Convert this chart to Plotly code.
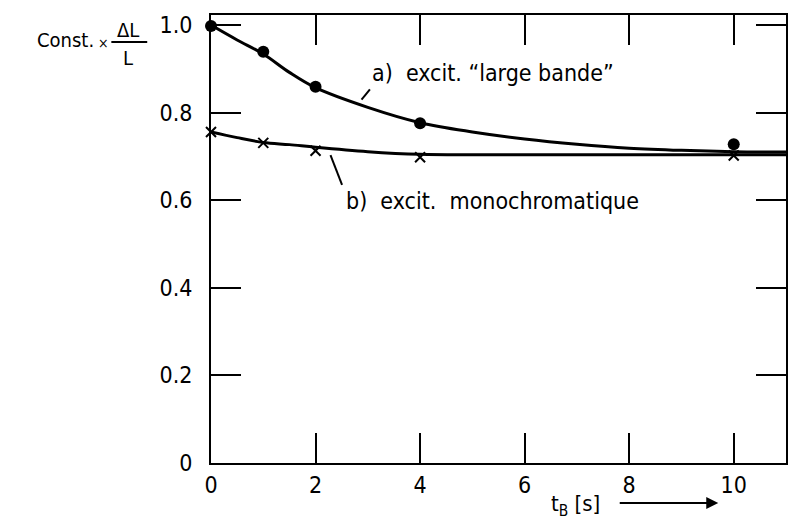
import plotly.graph_objects as go

# ---- data ----
pts_x = [0, 1, 2, 4, 10]
dots_a = [0.998, 0.939, 0.859, 0.776, 0.728]      # a) excit. "large bande"
cross_b = [0.756, 0.731, 0.713, 0.698, 0.702]     # b) excit. monochromatique

curve_x = [0, 0.5, 1, 1.5, 2, 3, 4, 5, 6, 7, 8, 9, 10, 11]
curve_a = [1.0, 0.966, 0.934, 0.892, 0.857, 0.812, 0.777, 0.756, 0.740, 0.728, 0.719, 0.714, 0.711, 0.710]
curve_b = [0.756, 0.743, 0.732, 0.727, 0.721, 0.711, 0.705, 0.704, 0.704, 0.704, 0.704, 0.704, 0.704, 0.704]

x_ticks = [0, 2, 4, 6, 8, 10]
y_ticks = [0, 0.2, 0.4, 0.6, 0.8, 1.0]
y_ticktext = ["0", "0.2", "0.4", "0.6", "0.8", "1.0"]

FONT = "Liberation Sans Narrow, DejaVu Sans Condensed, Arial Narrow, sans-serif"

W, H = 789, 524
L, R, T, B = 211, 1, 15, 61
PW, PH = W - L - R, H - T - B


def px(x):
    return (x - L) / PW


def py(y):
    return (H - B - y) / PH


fig = go.Figure()
fig.add_trace(go.Scatter(x=curve_x, y=curve_a, mode="lines", line=dict(color="black", width=3, shape="spline"),
                         showlegend=False, hoverinfo="skip"))
fig.add_trace(go.Scatter(x=curve_x, y=curve_b, mode="lines", line=dict(color="black", width=3, shape="spline"),
                         showlegend=False, hoverinfo="skip"))
fig.add_trace(go.Scatter(x=pts_x, y=dots_a, mode="markers", cliponaxis=False,
                         marker=dict(symbol="circle", size=12, color="black"), showlegend=False))
fig.add_trace(go.Scatter(x=pts_x, y=cross_b, mode="markers", cliponaxis=False,
                         marker=dict(symbol="x-thin", size=10, color="black", line=dict(color="black", width=2)),
                         showlegend=False))

axis_common = dict(showline=True, linewidth=2, linecolor="black", mirror="ticks", ticks="inside",
                   ticklen=30, tickwidth=2, tickcolor="black", showgrid=False, zeroline=False,
                   tickfont=dict(family=FONT, size=23, color="black"))

fig.update_xaxes(range=[0, 11], tickvals=x_ticks, ticktext=[str(v) for v in x_ticks], **axis_common)
fig.update_yaxes(range=[0, 1.023], tickvals=y_ticks, ticktext=y_ticktext, ticklabelstandoff=12, **axis_common)

ann = []
ann.append(dict(x=3.05, y=0.89, xref="x", yref="y", text="a)  excit. \u201clarge bande\u201d", showarrow=False,
                xanchor="left", yanchor="middle", font=dict(family=FONT, size=23, color="black")))
ann.append(dict(x=2.54, y=0.599, xref="x", yref="y", text="b)  excit.  monochromatique", showarrow=False,
                xanchor="left", yanchor="middle", font=dict(family=FONT, size=23, color="black")))
# y-axis title
ann.append(dict(x=px(34), y=py(40), xref="paper", yref="paper", text="Const.", showarrow=False,
                xanchor="left", yanchor="middle", font=dict(family=FONT, size=20, color="black")))
ann.append(dict(x=px(103), y=py(43), xref="paper", yref="paper", text="\u00d7", showarrow=False,
                xanchor="center", yanchor="middle", font=dict(family=FONT, size=14, color="black")))
ann.append(dict(x=px(128), y=py(30), xref="paper", yref="paper", text="\u0394L", showarrow=False,
                xanchor="center", yanchor="middle", font=dict(family=FONT, size=20, color="black")))
ann.append(dict(x=px(128), y=py(58), xref="paper", yref="paper", text="L", showarrow=False,
                xanchor="center", yanchor="middle", font=dict(family=FONT, size=20, color="black")))
# x-axis title
ann.append(dict(x=px(577), y=py(505), xref="paper", yref="paper", text="t<sub>B</sub> [s]", showarrow=False,
                xanchor="center", yanchor="middle", font=dict(family=FONT, size=22, color="black")))
ann.append(dict(x=px(720), y=py(503), xref="paper", yref="paper", ax=-100, ay=0, axref="pixel", ayref="pixel",
                text="", showarrow=True, arrowhead=2, arrowsize=1.2, arrowwidth=2, arrowcolor="black"))

shapes = [
    dict(type="line", xref="paper", yref="paper", x0=px(111), x1=px(147), y0=py(42), y1=py(42),
         line=dict(color="black", width=2)),
    dict(type="line", xref="x", yref="y", x0=2.88, y0=0.830, x1=3.04, y1=0.853, line=dict(color="black", width=2)),
    dict(type="line", xref="x", yref="y", x0=2.286, y0=0.703, x1=2.507, y1=0.635, line=dict(color="black", width=2)),
]

fig.update_layout(width=W, height=H, margin=dict(l=L, r=R, t=T, b=B, pad=0),
                  paper_bgcolor="white", plot_bgcolor="white", annotations=ann, shapes=shapes,
                  font=dict(family=FONT, color="black"))

fig.write_html("out.html")
